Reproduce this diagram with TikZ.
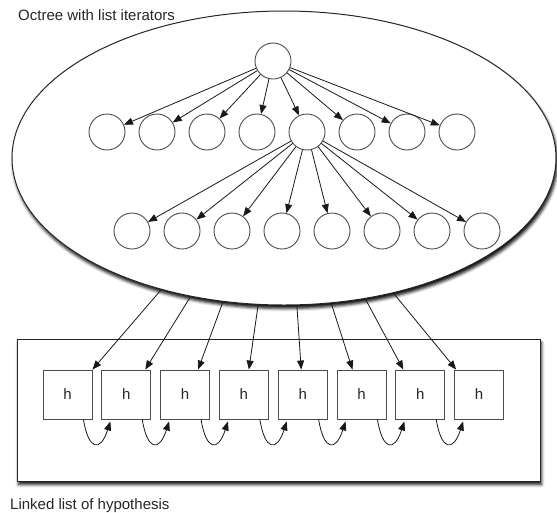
\documentclass[tikz,border=0pt]{standalone}
\usepackage{fontspec}
\setmainfont{Liberation Sans}
\usetikzlibrary{arrows.meta,calc,shadows.blur,shapes.geometric}
\begin{document}
\begin{tikzpicture}[x=1pt,y=-1pt,
  treenode/.style={circle,draw=black!70,line width=0.9pt,minimum size=36pt,inner sep=0pt,fill=white},
  hyp/.style={rectangle,draw=black!70,line width=0.9pt,minimum size=49pt,inner sep=0pt,
    font=\fontsize{15}{18}\selectfont,text=black!85,fill=white},
  link/.style={draw=black!90,line width=0.8pt,-{Triangle[length=9pt,width=7pt]}},
  caption/.style={anchor=base west,inner sep=0pt,font=\fontsize{15}{18}\selectfont,text=black!85},
  container/.style={draw=black!85,line width=1pt,fill=white,
    blur shadow={shadow xshift=1.5pt,shadow yshift=-3.5pt,shadow blur radius=3pt,shadow opacity=95}},
]
\useasboundingbox (0,0) rectangle (557,512);

% the octree and the list that holds the hypotheses
\node[container,ellipse,minimum width=544pt,minimum height=294pt,inner sep=0pt] (oct) at (284,158) {};
\node[container,rectangle,minimum width=523pt,minimum height=142pt,inner sep=0pt] (list) at (278.5,410) {};

\node[caption] (octlabel) at (18,20) {Octree with list iterators};
\node[caption] (listlabel) at (10,509) {Linked list of hypothesis};

% tree nodes
\node[treenode] (root) at (273,61) {};
\foreach \i in {1,...,8} {
  \node[treenode] (a\i) at ({57+50*\i},132) {};
  \node[treenode] (b\i) at ({82+50*\i},231) {};
  \node[hyp] (h\i) at ({67.5+58.8*(\i-1)},394.5) {h};
}

\foreach \i in {1,...,8} {
  \draw[link] (root) -- (a\i);
  \draw[link] (a5) -- (b\i);
}

% iterators from the octree into the list
\foreach \i/\a/\f in {1/227.7/1.0, 2/236.7/0.88, 3/247.2/0.76, 4/260.8/0.6,
                      5/275/0.47, 6/288.1/0.32, 7/300.1/0.16, 8/309.6/0.04} {
  \draw[link] (oct.\a) -- ($(h\i.north west)!\f!(h\i.north east)$);
}

% next-pointers between hypotheses
\foreach \i/\j in {1/2,2/3,3/4,4/5,5/6,6/7,7/8} {
  \draw[link] ($(h\i.south east)+(-9,0)$) .. controls +(5,31) and +(-10,31) .. ($(h\j.south west)+(9,2)$);
}
\end{tikzpicture}
\end{document}
